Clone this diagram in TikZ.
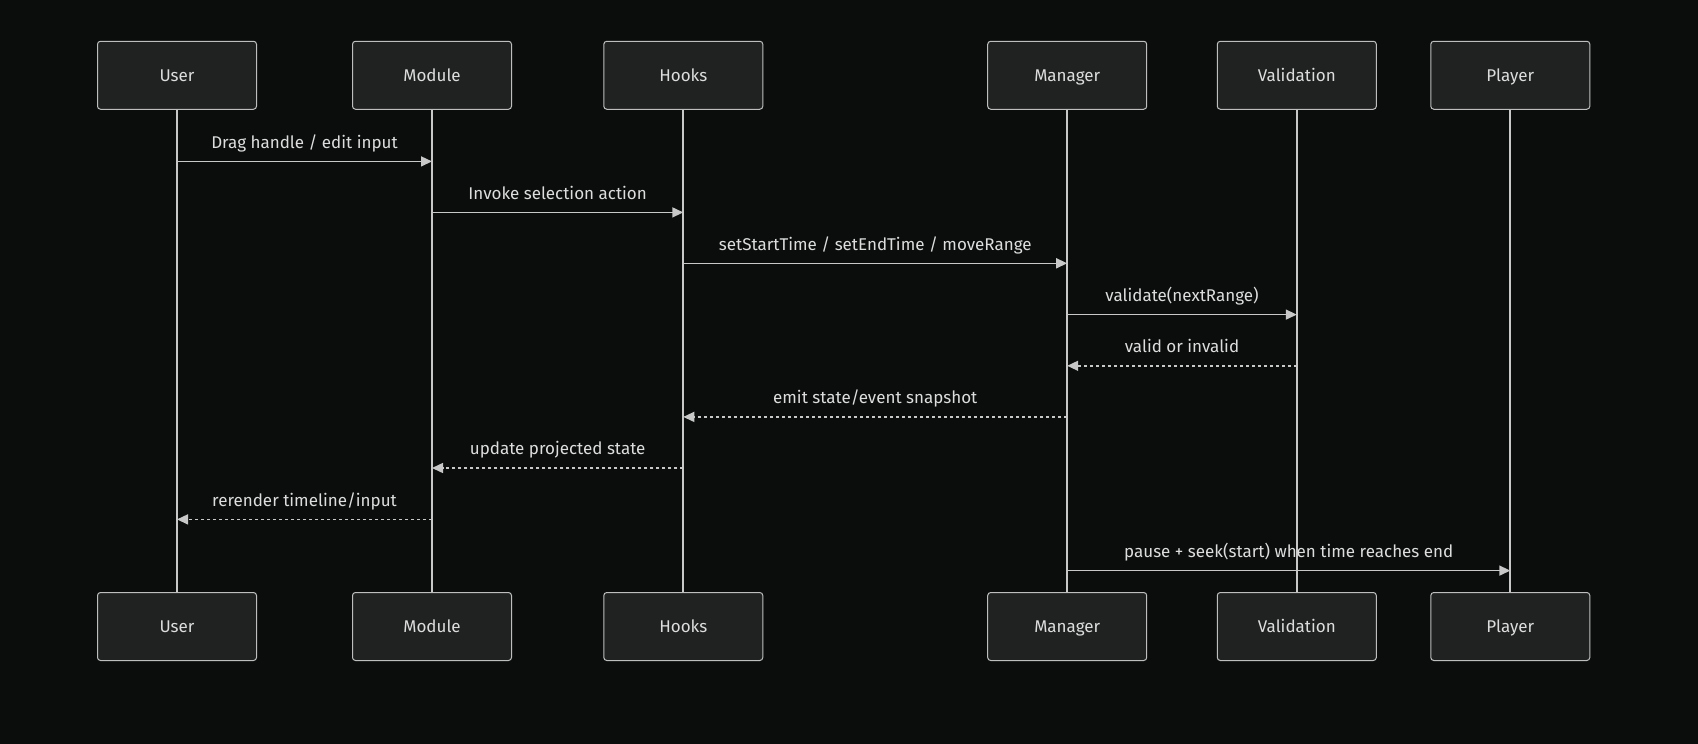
\documentclass[tikz,border=0pt]{standalone}
\usepackage{fontspec}
\setmainfont{Fira Sans}
\usetikzlibrary{arrows.meta}
\definecolor{bgc}{RGB}{11,13,13}
\definecolor{boxfill}{RGB}{32,34,34}
\definecolor{boxline}{RGB}{190,190,190}
\definecolor{linec}{RGB}{200,200,200}
\definecolor{txtc}{RGB}{221,221,221}
\tikzset{
  actor/.style={draw=boxline, fill=boxfill, line width=1pt, rounded corners=3pt,
    minimum width=159pt, minimum height=68pt, inner sep=0pt,
    text height=14pt, text depth=2pt,
    text=txtc, font=\fontsize{17}{20}\selectfont},
  life/.style={draw=linec, line width=2pt},
  msg/.style={draw=linec, line width=1.5pt, -{Triangle[length=11pt,width=10pt]}},
  ret/.style={msg, dash pattern=on 3pt off 3pt},
  lbl/.style={anchor=base, yshift=13.3pt, text=txtc, font=\fontsize{17}{20}\selectfont, inner sep=0pt}
}
\begin{document}
\begin{tikzpicture}[x=1pt,y=-1pt]
\fill[bgc] (0,0) rectangle (1698,744);
\useasboundingbox (0,0) rectangle (1698,744);
% top actors
\node[actor] (uT) at (177,75.25) {User};
\node[actor] (mT) at (432,75.25) {Module};
\node[actor] (hT) at (683.3,75.25) {Hooks};
\node[actor] (gT) at (1067.2,75.25) {Manager};
\node[actor] (vT) at (1296.8,75.25) {Validation};
\node[actor] (pT) at (1510.3,75.25) {Player};
% bottom actors
\node[actor] (uB) at (177,626.5) {User};
\node[actor] (mB) at (432,626.5) {Module};
\node[actor] (hB) at (683.3,626.5) {Hooks};
\node[actor] (gB) at (1067.2,626.5) {Manager};
\node[actor] (vB) at (1296.8,626.5) {Validation};
\node[actor] (pB) at (1510.3,626.5) {Player};
% lifelines
\foreach \a in {u,m,h,g,v,p} \draw[life] (\a T.south) -- (\a B.north);
% message rows
\coordinate (y1) at (0,161.4);
\coordinate (y2) at (0,212.4);
\coordinate (y3) at (0,263.3);
\coordinate (y4) at (0,314.6);
\coordinate (y5) at (0,365.8);
\coordinate (y6) at (0,416.9);
\coordinate (y7) at (0,468.0);
\coordinate (y8) at (0,519.4);
\coordinate (y9) at (0,570.6);
\draw[msg] (uT.south |- y1) -- (mT.south |- y1) node[midway,lbl] {Drag handle / edit input};
\draw[msg] (mT.south |- y2) -- (hT.south |- y2) node[midway,lbl] {Invoke selection action};
\draw[msg] (hT.south |- y3) -- (gT.south |- y3) node[midway,lbl] {setStartTime / setEndTime / moveRange};
\draw[msg] (gT.south |- y4) -- (vT.south |- y4) node[midway,lbl] {validate(nextRange)};
\draw[ret] (vT.south |- y5) -- (gT.south |- y5) node[midway,lbl] {valid or invalid};
\draw[ret] (gT.south |- y6) -- (hT.south |- y6) node[midway,lbl] {emit state/event snapshot};
\draw[ret] (hT.south |- y7) -- (mT.south |- y7) node[midway,lbl] {update projected state};
\draw[ret] (mT.south |- y8) -- (uT.south |- y8) node[midway,lbl] {rerender timeline/input};
\draw[msg] (gT.south |- y9) -- (pT.south |- y9) node[midway,lbl] {pause + seek(start) when time reaches end};
\end{tikzpicture}
\end{document}
